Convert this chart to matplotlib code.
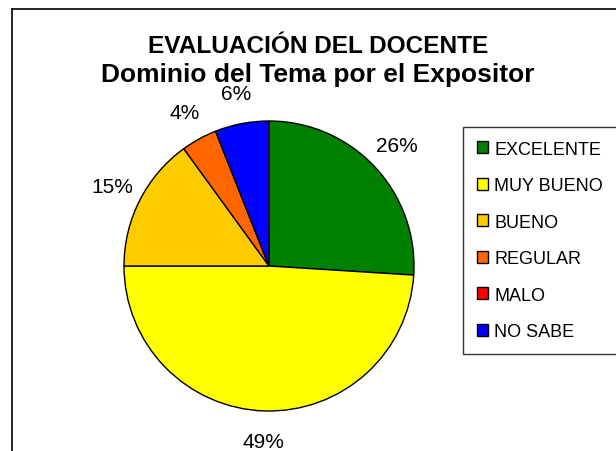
import matplotlib.pyplot as plt
from matplotlib.lines import Line2D

plt.rcParams['font.family'] = ['Liberation Sans', 'DejaVu Sans']

categorias = ['EXCELENTE', 'MUY BUENO', 'BUENO', 'REGULAR', 'MALO', 'NO SABE']
porcentajes = [26, 49, 15, 4, 0, 6]
colores = ['#008000', '#FFFF00', '#FFCC00', '#FF6600', '#FF0000', '#0000FF']

fig = plt.figure(figsize=(6.16, 4.52), dpi=100)

# marco del grafico (solo borde izquierdo y superior visibles)
fig.add_artist(Line2D([12/616, 12/616], [0, 1 - 10/452], color='black', lw=1.2))
fig.add_artist(Line2D([12/616, 1], [1 - 10/452, 1 - 10/452], color='black', lw=1.2))

ax = fig.add_axes([124/616, 40/452, 290/616, 290/452])
etiquetas = [f'{p}%' if p > 0 else '' for p in porcentajes]
wedges, texts = ax.pie(porcentajes, colors=colores, labels=etiquetas,
                       startangle=90, counterclock=False,
                       labeldistance=1.21,
                       wedgeprops=dict(edgecolor='black', linewidth=1),
                       textprops=dict(fontsize=15))
for t in texts:
    t.set_ha('center')
    t.set_va('center')
ax.set_xlim(-1, 1)
ax.set_ylim(-1, 1)
ax.set_aspect('equal')

fig.text(0.516, 1 - 53/452, 'EVALUACIÓN DEL DOCENTE', ha='center', va='baseline',
         fontsize=17.6, fontweight='bold')
fig.text(0.516, 1 - 82/452, 'Dominio del Tema por el Expositor', ha='center', va='baseline',
         fontsize=19, fontweight='bold')

leg = fig.legend(wedges, categorias, loc='upper left',
                 bbox_to_anchor=(463/616, 1 - 128/452), bbox_transform=fig.transFigure,
                 fontsize=13, frameon=True, fancybox=False, labelspacing=1.08,
                 handlelength=0.66, handleheight=0.66, handletextpad=0.33,
                 borderpad=0.75, borderaxespad=0)
leg.get_frame().set_edgecolor('black')
leg.get_frame().set_linewidth(1)

fig.savefig('out.png', dpi=100)
